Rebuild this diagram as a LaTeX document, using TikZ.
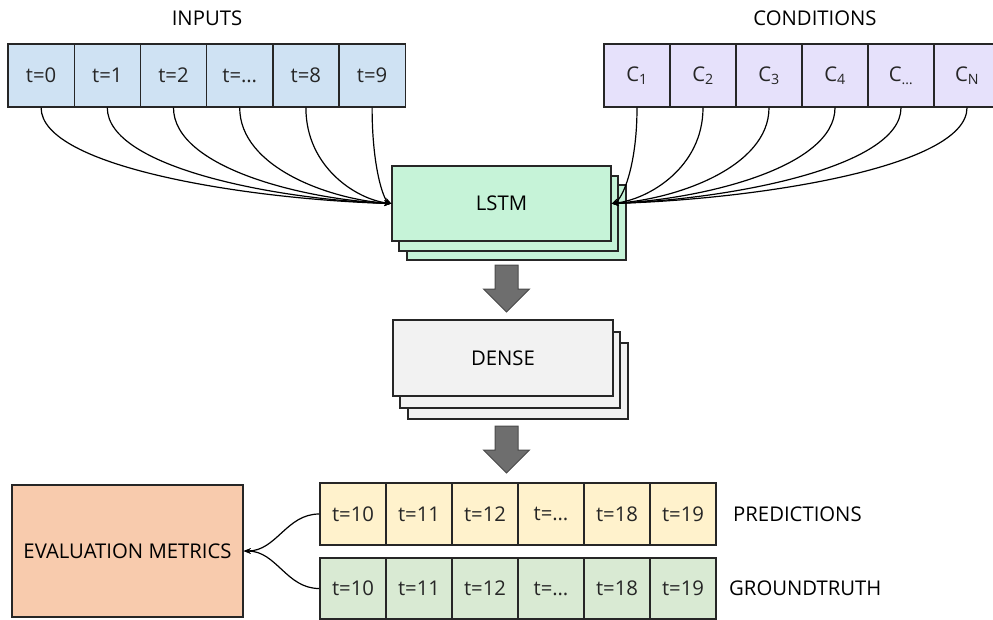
\documentclass[tikz,border=0pt]{standalone}
\usepackage{fontspec}
\setmainfont{Open Sans}
\usetikzlibrary{arrows.meta,calc}

\definecolor{inblue}{HTML}{CFE2F3}
\definecolor{condlav}{HTML}{E6E1FB}
\definecolor{lstmgreen}{HTML}{C6F3D8}
\definecolor{densegray}{HTML}{F2F2F2}
\definecolor{predyellow}{HTML}{FFF2CC}
\definecolor{gtgreen}{HTML}{D9EAD3}
\definecolor{evalpeach}{HTML}{F8CBAD}
\definecolor{edge}{HTML}{262626}
\definecolor{arrowfill}{HTML}{6E6E6E}
\definecolor{arrowedge}{HTML}{4A4A4A}

\tikzset{
  cell/.style={draw=edge, line width=1.4pt, minimum width=66.2pt, minimum height=63pt,
               inner sep=0pt, font=\fontsize{20.3}{24}\selectfont, text=edge},
  layerbox/.style={draw=edge, line width=1.4pt, inner sep=0pt,
               font=\fontsize{20.3}{24}\selectfont, text=black},
  caption/.style={font=\fontsize{20.3}{24}\selectfont, text=black, inner sep=0pt},
  conn/.style={line width=1.2pt, black, -{Stealth[length=7pt,width=5.5pt]}},
  fatarrow/.style={fill=arrowfill, draw=arrowedge, line width=1pt, line join=miter}
}

% block arrow from #1 (top of shaft) down to #2 (tip)
\newcommand\blockarrow[2]{%
  \path[fatarrow] ($(#1)+(-11.5,0)$) -- ($(#1)+(11.5,0)$) -- ($(#2)+(11.5,-23)$)
    -- ($(#2)+(23,-23)$) -- (#2) -- ($(#2)+(-23,-23)$) -- ($(#2)+(-11.5,-23)$) -- cycle;}

\begin{document}
\begin{tikzpicture}[x=1pt,y=-1pt]
\useasboundingbox (0,0) rectangle (993,619);

% input time steps
\node[caption] (inputs) at (207,18) {INPUTS};
\foreach \lab [count=\i from 0] in {t=0,t=1,t=2,t=…,t=8,t=9}
  \node[cell, fill=inblue] (in\i) at ({8+66.2*\i+33.1},75.5) {\lab};

% conditioning features
\node[caption] (conds) at (815,18) {CONDITIONS};
\foreach \lab [count=\i from 0] in {C\textsubscript{1},C\textsubscript{2},C\textsubscript{3},C\textsubscript{4},C\textsubscript{…},C\textsubscript{N}}
  \node[cell, fill=condlav] (c\i) at ({604+66*\i+33},75.5) {\lab};

% LSTM layer stack
\node[layerbox, fill=lstmgreen, minimum width=219pt, minimum height=75pt] (lstm3) at (516.5,222.5) {};
\node[layerbox, fill=lstmgreen, minimum width=219pt, minimum height=75pt] (lstm2) at (508.5,213.5) {};
\node[layerbox, fill=lstmgreen, minimum width=219pt, minimum height=75pt] (lstm) at (501.5,203.5) {LSTM};

% dense layer stack
\node[layerbox, fill=densegray, minimum width=220pt, minimum height=76pt] (dense3) at (518,381) {};
\node[layerbox, fill=densegray, minimum width=220pt, minimum height=76pt] (dense2) at (510,370) {};
\node[layerbox, fill=densegray, minimum width=220pt, minimum height=76pt] (dense) at (503,358) {DENSE};

% predictions and ground truth
\foreach \lab [count=\i from 0] in {t=10,t=11,t=12,t=…,t=18,t=19}
  \node[cell, fill=predyellow, minimum height=62pt] (p\i) at ({320+66*\i+33},514) {\lab};
\foreach \lab [count=\i from 0] in {t=10,t=11,t=12,t=…,t=18,t=19}
  \node[cell, fill=gtgreen, minimum height=61pt] (g\i) at ({320+66*\i+33},588.5) {\lab};
\node[caption, anchor=west] (predlab) at (733,514) {PREDICTIONS};
\node[caption, anchor=west] (gtlab) at (729,588) {GROUNDTRUTH};

% evaluation
\node[layerbox, fill=evalpeach, minimum width=231pt, minimum height=132pt] (eval) at (127.5,551) {EVALUATION METRICS};

% connectors into the LSTM: drop down, then sweep in at a shallow angle
\foreach \i in {0,...,5}
  \draw[conn] let \p1=(in\i.south), \p2=(lstm.west), \n1={0.4*abs(\x2-\x1)} in
    (\p1) .. controls +(0pt,-60pt) and +({-\n1*1pt},4pt) .. (\p2);
\foreach \i in {0,...,5}
  \draw[conn] let \p1=(c\i.south), \p2=(lstm.east), \n1={0.4*abs(\x2-\x1)} in
    (\p1) .. controls +(0pt,-60pt) and +({\n1*1pt},4pt) .. (\p2);

% block arrows between layers
\coordinate (a1s) at (506.5,265);
\coordinate (a1e) at (506.5,312);
\coordinate (a2s) at (506.5,426);
\coordinate (a2e) at (506.5,473);
\blockarrow{a1s}{a1e}
\blockarrow{a2s}{a2e}

% comparison against the ground truth
\draw[conn] (p0.west) to[out=180,in=0] (eval.east);
\draw[conn] (g0.west) to[out=180,in=0] (eval.east);
\end{tikzpicture}
\end{document}
